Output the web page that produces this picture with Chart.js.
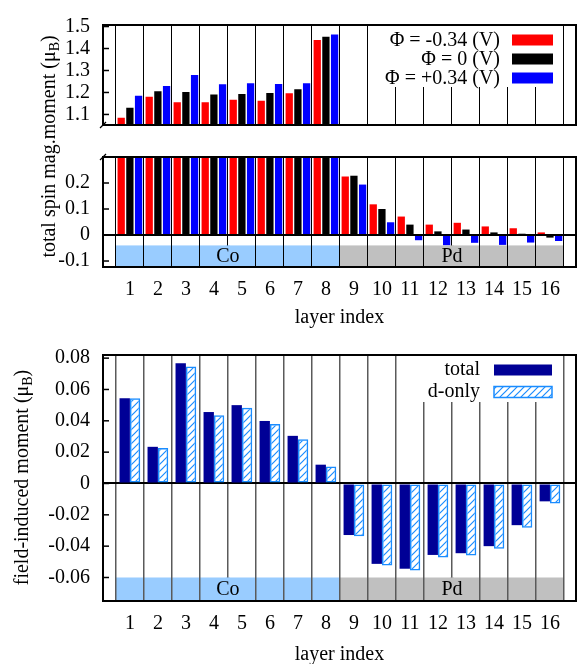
<!DOCTYPE html>
<html>
<head>
<meta charset="utf-8">
<script src="https://cdn.jsdelivr.net/npm/chart.js@4.4.1/dist/chart.umd.min.js"></script>
<style>
  body { margin: 0; background: #fff; }
  #wrap { position: relative; width: 577px; height: 664px; }
  .box { position: absolute; left: 0; width: 577px; }
</style>
</head>
<body>
<div id="wrap">
  <div class="box" style="top:0;height:330px"><canvas id="spinLow"></canvas></div>
  <div class="box" style="top:0;height:150px"><canvas id="spinHigh"></canvas></div>
  <div class="box" style="top:330px;height:334px"><canvas id="induced"></canvas></div>
</div>
<script>
// layer index on the x axis
const layers = [1, 2, 3, 4, 5, 6, 7, 8, 9, 10, 11, 12, 13, 14, 15, 16];

// total spin moment per layer (muB) for the three gate voltages
const phiNeg  = [1.085, 1.180, 1.156, 1.156, 1.167, 1.162, 1.197, 1.439, 0.225, 0.118, 0.071, 0.040, 0.047, 0.033, 0.026, 0.010];
const phiZero = [1.131, 1.206, 1.202, 1.191, 1.193, 1.198, 1.215, 1.453, 0.228, 0.100, 0.040, 0.014, 0.021, 0.010, 0.005, -0.010];
const phiPos  = [1.185, 1.229, 1.279, 1.237, 1.242, 1.238, 1.242, 1.464, 0.194, 0.049, -0.020, -0.039, -0.030, -0.038, -0.029, -0.023];
const phiLabels = ['\u03A6 = -0.34 (V)', '\u03A6 = 0 (V)', '\u03A6 = +0.34 (V)'];

// field-induced moment per layer (muB)
const totalInduced = [0.0544, 0.0234, 0.0768, 0.0456, 0.0500, 0.0399, 0.0304, 0.0120, -0.0329, -0.0513, -0.0544, -0.0456, -0.0445, -0.0400, -0.0266, -0.0114];
const dOnlyInduced = [0.0544, 0.0226, 0.0747, 0.0435, 0.0483, 0.0380, 0.0283, 0.0108, -0.0337, -0.0523, -0.0555, -0.0473, -0.0460, -0.0416, -0.0283, -0.0128];
const inducedLabels = ['total', 'd-only'];

// tick labels
const ticksHigh = [1.1, 1.2, 1.3, 1.4, 1.5];
const ticksLow = [-0.1, 0, 0.1, 0.2];
const ticksInduced = [-0.06, -0.04, -0.02, 0, 0.02, 0.04, 0.06, 0.08];

// material regions
const regionNames = ['Co', 'Pd'];
const regionSpans = [[1, 8], [9, 16]];

const FONT = '"Liberation Serif", "Times New Roman", serif';
Chart.defaults.font.family = FONT;
Chart.defaults.font.size = 20;
Chart.defaults.color = '#000';
Chart.defaults.animation = false;

const phiColors = ['#ff0000', '#000000', '#0000ff'];
const regionColors = ['#99ccff', '#c0c0c0'];
const navy = '#000096';
const hatchBlue = '#1a8cff';

function hatchPattern(ctx) {
  const tile = document.createElement('canvas');
  tile.width = 7; tile.height = 7;
  const g = tile.getContext('2d');
  g.strokeStyle = hatchBlue;
  g.lineWidth = 1.2;
  g.beginPath();
  g.moveTo(-1, 8); g.lineTo(8, -1);
  g.moveTo(-1, 1); g.lineTo(1, -1);
  g.moveTo(6, 8); g.lineTo(8, 6);
  g.stroke();
  return ctx.createPattern(tile, 'repeat');
}

function layerAxis(showLabels, gridColor, gridWidth, titlePad) {
  return {
    type: 'linear', min: 0.04, max: 16.93, offset: false,
    afterBuildTicks: s => { s.ticks = layers.map(v => ({ value: v })); },
    afterFit: s => { s.height = showLabels ? 63 : 0; },
    grid: { offset: true, drawTicks: false, color: gridColor, lineWidth: gridWidth },
    border: { display: false },
    ticks: { display: showLabels, padding: 11, autoSkip: false, maxRotation: 0, callback: v => String(v) },
    title: { display: showLabels, text: 'layer index', padding: { top: 0, bottom: titlePad } }
  };
}

function valueAxis(min, max, ticks) {
  return {
    min, max,
    afterBuildTicks: s => { s.ticks = ticks.map(v => ({ value: v })); },
    afterFit: s => { s.width = 103; },
    grid: {
      drawTicks: false, lineWidth: 2,
      color: c => (c.tick && c.tick.value === 0) ? '#000' : 'rgba(0,0,0,0)'
    },
    border: { display: false },
    ticks: { padding: 13, callback: v => String(v) }
  };
}

function line(ctx, x1, y1, x2, y2) {
  ctx.beginPath(); ctx.moveTo(x1, y1); ctx.lineTo(x2, y2); ctx.stroke();
}

function drawRotatedTitle(ctx, cx, cy, parts) {
  ctx.save();
  ctx.translate(cx, cy);
  ctx.rotate(-Math.PI / 2);
  ctx.fillStyle = '#000';
  ctx.textBaseline = 'alphabetic';
  const big = '20px ' + FONT, small = '14px ' + FONT;
  ctx.font = big; const w1 = ctx.measureText(parts[0]).width;
  ctx.font = small; const w2 = ctx.measureText(parts[1]).width;
  ctx.font = big; const w3 = ctx.measureText(parts[2]).width;
  let x = -(w1 + w2 + w3) / 2;
  ctx.fillText(parts[0], x, 7); x += w1;
  ctx.font = small; ctx.fillText(parts[1], x, 11); x += w2;
  ctx.font = big; ctx.fillText(parts[2], x, 7);
  ctx.restore();
}

// frame, inward y ticks, broken-axis marks
function framePlugin(breakAt) {
  return {
    id: 'frame',
    afterDraw(chart) {
      const { ctx, chartArea: a, scales: { y } } = chart;
      ctx.save();
      ctx.strokeStyle = '#000';
      ctx.lineWidth = 2;
      ctx.strokeRect(a.left, a.top, a.right - a.left, a.bottom - a.top);
      ctx.lineWidth = 1.5;
      y.ticks.forEach(t => {
        const py = y.getPixelForValue(t.value);
        line(ctx, a.left, py, a.left + 6, py);
      });
      if (breakAt) {
        const by = breakAt === 'bottom' ? a.bottom : a.top;
        ctx.fillStyle = '#fff';
        ctx.lineWidth = 1.2;
        line(ctx, a.left - 3, by + 3, a.left + 3, by - 3);
      }
      ctx.restore();
    }
  };
}

// Co / Pd bands at the bottom of a panel
function regionPlugin(bandTop) {
  return {
    id: 'regions',
    beforeDraw(chart) {
      const { ctx, chartArea: a, scales: { x, y } } = chart;
      const top = y.getPixelForValue(bandTop);
      ctx.save();
      regionSpans.forEach((sp, k) => {
        const x1 = x.getPixelForValue(sp[0] - 0.5), x2 = x.getPixelForValue(sp[1] + 0.5);
        ctx.fillStyle = regionColors[k];
        ctx.fillRect(x1, top, x2 - x1, a.bottom - top);
      });
      ctx.restore();
    },
    afterDatasetsDraw(chart) {
      const { ctx, chartArea: a, scales: { x, y } } = chart;
      const top = y.getPixelForValue(bandTop);
      ctx.save();
      regionSpans.forEach((sp, k) => {
        const cx = x.getPixelForValue((sp[0] + sp[1]) / 2);
        ctx.fillStyle = regionColors[k];
        ctx.fillRect(cx - 2, top, 4, a.bottom - top);
        ctx.fillStyle = '#000';
        ctx.font = '20px ' + FONT;
        ctx.textAlign = 'center';
        ctx.textBaseline = 'middle';
        ctx.fillText(regionNames[k], cx, (top + a.bottom) / 2 + 1);
      });
      ctx.restore();
    }
  };
}

function titlePlugin(cx, cy, parts) {
  return { id: 'ytitle', afterDraw(chart) { drawRotatedTitle(chart.ctx, cx, cy, parts); } };
}

function spinDatasets() {
  return [phiNeg, phiZero, phiPos].map((vals, k) => ({
    label: phiLabels[k],
    data: layers.map((l, i) => ({ x: l, y: vals[i] })),
    backgroundColor: phiColors[k],
    borderWidth: 0,
    categoryPercentage: 0.93,
    barPercentage: 0.84,
    clip: 0
  }));
}

const spinLegend = {
  id: 'spinLegend',
  beforeDatasetsDraw(chart) {
    const { ctx, chartArea: a } = chart;
    ctx.save();
    ctx.fillStyle = '#fff';
    ctx.fillRect(a.right - 206, a.top + 1, 188, 61);
    ctx.restore();
  },
  afterDraw(chart) {
    const { ctx, chartArea: a } = chart;
    ctx.save();
    ctx.font = '20px ' + FONT;
    ctx.textAlign = 'right';
    ctx.textBaseline = 'middle';
    chart.data.datasets.forEach((ds, k) => {
      const cy = a.top + 15 + 19 * k;
      ctx.fillStyle = '#000';
      ctx.fillText(ds.label, a.right - 76, cy + 1);
      ctx.fillStyle = ds.backgroundColor;
      ctx.fillRect(a.right - 64, cy - 5.5, 41, 11);
    });
    ctx.restore();
  }
};

// upper part of the broken axis
new Chart(document.getElementById('spinHigh'), {
  type: 'bar',
  data: { datasets: spinDatasets() },
  options: {
    responsive: true, maintainAspectRatio: false,
    layout: { padding: { top: 15, bottom: 3, left: 0, right: 1 } },
    plugins: { legend: { display: false }, tooltip: { enabled: false } },
    scales: {
      x: layerAxis(false, '#000', 1, 0),
      y: valueAxis(1.052, 1.507, ticksHigh)
    }
  },
  plugins: [spinLegend, framePlugin('bottom')]
});

// lower part of the broken axis
new Chart(document.getElementById('spinLow'), {
  type: 'bar',
  data: { datasets: spinDatasets() },
  options: {
    responsive: true, maintainAspectRatio: false,
    layout: { padding: { top: 157, bottom: 0, left: 0, right: 1 } },
    plugins: { legend: { display: false }, tooltip: { enabled: false } },
    scales: {
      x: layerAxis(true, '#000', 1, 0),
      y: valueAxis(-0.123, 0.3, ticksLow)
    }
  },
  plugins: [regionPlugin(-0.04), framePlugin('top'),
            titlePlugin(48, 146.5, ['total spin mag.moment (\u03BC', 'B', ')'])]
});

// field-induced moment
const indCanvas = document.getElementById('induced');
const hatch = hatchPattern(indCanvas.getContext('2d'));

const inducedLegend = {
  id: 'inducedLegend',
  beforeDatasetsDraw(chart) {
    const { ctx, chartArea: a } = chart;
    ctx.save();
    ctx.fillStyle = '#fff';
    ctx.fillRect(a.right - 178, a.top + 1, 162, 46);
    ctx.restore();
  },
  afterDraw(chart) {
    const { ctx, chartArea: a } = chart;
    ctx.save();
    ctx.font = '20px ' + FONT;
    ctx.textAlign = 'right';
    ctx.textBaseline = 'middle';
    chart.data.datasets.forEach((ds, k) => {
      const cy = a.top + 15 + 22 * k;
      ctx.fillStyle = '#000';
      ctx.fillText(ds.label, a.right - 96, cy);
      ctx.fillStyle = ds.backgroundColor;
      ctx.fillRect(a.right - 82, cy - 5.5, 58, 11);
      if (ds.borderWidth) {
        ctx.strokeStyle = ds.borderColor;
        ctx.lineWidth = 1.5;
        ctx.strokeRect(a.right - 82, cy - 5.5, 58, 11);
      }
    });
    ctx.restore();
  }
};

new Chart(indCanvas, {
  type: 'bar',
  data: {
    datasets: [
      {
        label: inducedLabels[0],
        data: layers.map((l, i) => ({ x: l, y: totalInduced[i] })),
        backgroundColor: navy, borderWidth: 0,
        categoryPercentage: 0.74, barPercentage: 1.0, clip: 0
      },
      {
        label: inducedLabels[1],
        data: layers.map((l, i) => ({ x: l, y: dOnlyInduced[i] })),
        backgroundColor: hatch, borderColor: hatchBlue, borderWidth: 1.5, borderSkipped: false,
        categoryPercentage: 0.74, barPercentage: 1.0, clip: 0
      }
    ]
  },
  options: {
    responsive: true, maintainAspectRatio: false,
    layout: { padding: { top: 25, bottom: 0, left: 0, right: 1 } },
    plugins: { legend: { display: false }, tooltip: { enabled: false } },
    scales: {
      x: layerAxis(true, '#5a5a5a', 1.5, -3),
      y: valueAxis(-0.075, 0.082, ticksInduced)
    }
  },
  plugins: [regionPlugin(-0.06), inducedLegend, framePlugin(null),
            titlePlugin(21, 147.5, ['field-induced moment (\u03BC', 'B', ')'])]
});
</script>
</body>
</html>
